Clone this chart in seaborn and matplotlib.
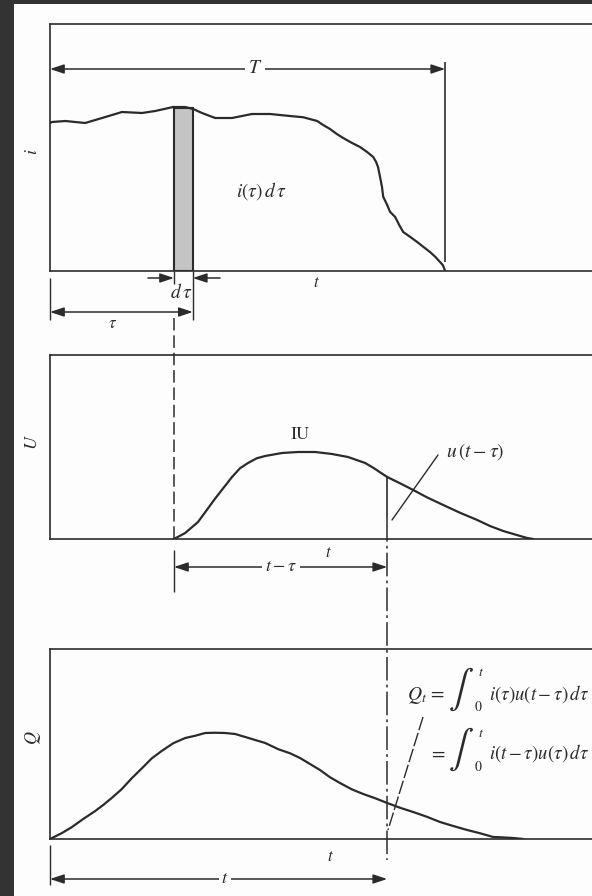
import matplotlib
matplotlib.use("Agg")
import matplotlib.pyplot as plt
from matplotlib.patches import Rectangle
import pandas as pd
import seaborn as sns

# ---------------- data ----------------
# rainfall intensity i(tau)
rain_time = [0.0, 0.05, 0.38, 0.88, 1.3, 1.8, 2.3, 2.63, 3.08, 3.38, 3.58, 3.8,
             4.13, 4.55, 5.05, 5.5, 6.0, 6.33, 6.68, 6.83, 7.0, 7.17, 7.33, 7.54,
             7.75, 7.92, 8.08, 8.15, 8.2, 8.25, 8.3, 8.33, 8.43, 8.5, 8.63, 8.73,
             8.83, 9.0, 9.18, 9.33, 9.5, 9.63, 9.75, 9.82, 9.88]
rain_i = [5.92, 5.96, 6.0, 5.92, 6.12, 6.36, 6.32, 6.4, 6.56, 6.56, 6.48, 6.32,
          6.12, 6.12, 6.28, 6.28, 6.2, 6.15, 6.0, 5.84, 5.68, 5.48, 5.32, 5.13,
          4.96, 4.77, 4.56, 4.37, 4.16, 3.77, 3.36, 2.97, 2.64, 2.37, 2.16, 1.84,
          1.56, 1.37, 1.16, 0.97, 0.76, 0.57, 0.36, 0.24, 0.0]

# instantaneous unit hydrograph, starting at tau
iu_time = [3.1, 3.38, 3.7, 3.92, 4.13, 4.33, 4.55, 4.75, 4.95, 5.17, 5.38, 5.8,
           6.2, 6.63, 7.05, 7.45, 7.88, 8.08, 8.43, 8.75, 9.08, 9.42, 9.83,
           10.25, 10.68, 11.0, 11.33, 11.67, 11.93, 12.08]
iu_u = [0.0, 0.24, 0.68, 1.16, 1.62, 2.03, 2.48, 2.83, 3.04, 3.23, 3.32, 3.44,
        3.48, 3.48, 3.4, 3.28, 3.04, 2.85, 2.48, 2.23, 1.96, 1.67, 1.36,
        1.05, 0.76, 0.52, 0.32, 0.16, 0.04, 0.0]

# direct runoff hydrograph Q(t)
q_time = [0.0, 0.05, 0.29, 0.55, 0.83, 1.13, 1.33, 1.55, 1.79, 2.05, 2.21, 2.38,
          2.54, 2.8, 3.08, 3.38, 3.63, 3.88, 4.13, 4.38, 4.63, 4.88, 5.13, 5.38,
          5.71, 6.0, 6.25, 6.5, 6.75, 7.0, 7.25, 7.54, 7.83, 8.13, 8.43, 8.75,
          9.08, 9.42, 9.75, 10.08, 10.43, 10.75, 11.08, 11.25, 11.58, 11.83]
q_val = [0.0, 0.04, 0.23, 0.48, 0.8, 1.12, 1.36, 1.65, 1.99, 2.44, 2.69, 2.96,
         3.22, 3.53, 3.83, 4.04, 4.13, 4.24, 4.25, 4.24, 4.2, 4.08, 3.96, 3.84,
         3.59, 3.43, 3.24, 3.0, 2.76, 2.47, 2.24, 1.99, 1.8, 1.63, 1.44, 1.25,
         1.08, 0.89, 0.68, 0.52, 0.36, 0.23, 0.08, 0.07, 0.04, 0.0]

T = 9.88          # rainfall duration
tau = 3.1         # start of the elemental pulse
dtau = 0.47       # pulse width
t_now = 8.43      # time of interest
bar_height = 6.5  # i(tau)

rain = pd.DataFrame({"time": rain_time, "i": rain_i})
iu = pd.DataFrame({"time": iu_time, "u": iu_u})
runoff = pd.DataFrame({"time": q_time, "Q": q_val})

# ---------------- style ----------------
sns.set_style("white")
plt.rcParams["font.family"] = ["STIXGeneral", "DejaVu Serif"]
plt.rcParams["mathtext.fontset"] = "stix"
plt.rcParams["lines.scale_dashes"] = False

INK = "#2b2b2b"
W, H = 592, 896
fig = plt.figure(figsize=(W / 100, H / 100), dpi=100, facecolor="#333333")
fig.patches.append(Rectangle((14 / W, 0), 1, 1 - 4 / H, transform=fig.transFigure,
                             facecolor="#fdfdfd", edgecolor="none", zorder=-10))

PX_PER_UNIT_X = 40.0
PX_PER_UNIT_Y = 25.0
LEFT = 50


def panel(top_px, bottom_px):
    ax = fig.add_axes([LEFT / W, (H - bottom_px) / H, 560 / W, (bottom_px - top_px) / H])
    ax.set_xlim(0, 560 / PX_PER_UNIT_X)
    ax.set_ylim(0, (bottom_px - top_px) / PX_PER_UNIT_Y)
    ax.patch.set_alpha(0)
    for s in ax.spines.values():
        s.set_color(INK)
        s.set_linewidth(1.2)
    return ax


ax1 = panel(24, 271)
ax2 = panel(355, 539)
ax3 = panel(649, 839)

curve_kw = dict(color=INK, linewidth=1.6, zorder=3, solid_joinstyle="round",
                solid_capstyle="round")

# rainfall panel
ax1.bar(tau, bar_height, width=dtau, align="edge", color="#c4c4c4",
        edgecolor=INK, linewidth=1.5, zorder=2)
sns.lineplot(data=rain, x="time", y="i", ax=ax1, **curve_kw)

# unit hydrograph panel
sns.lineplot(data=iu, x="time", y="u", ax=ax2, **curve_kw)

# runoff panel
sns.lineplot(data=runoff, x="time", y="Q", ax=ax3, **curve_kw)

for ax in (ax1, ax2, ax3):
    ax.set_xlabel("")
    ax.set_ylabel("")
    ax.set_xticks([])
    ax.set_yticks([])

# overlay: x in time units, y in pixels from top
ov = fig.add_axes([0, 0, 1, 1], zorder=5)
ov.set_xlim(-LEFT / PX_PER_UNIT_X, (W - LEFT) / PX_PER_UNIT_X)
ov.set_ylim(H, 0)
ov.axis("off")
ov.patch.set_alpha(0)


def X(px):
    return (px - LEFT) / PX_PER_UNIT_X


def vline(x, y0, y1, **kw):
    kw.setdefault("color", INK)
    kw.setdefault("linewidth", 1.2)
    ov.plot([x, x], [y0, y1], clip_on=False, solid_capstyle="butt", **kw)


def arrow(x0, x1, y, style="<|-|>"):
    ov.annotate("", xy=(x1, y), xytext=(x0, y),
                arrowprops=dict(arrowstyle=style + ",head_length=0.6,head_width=0.2",
                                mutation_scale=14, color=INK, lw=1.1,
                                shrinkA=0, shrinkB=0))


def label(x, y, s, size=12, ha="center", va="center", bg=False, **kw):
    bbox = dict(boxstyle="square,pad=0.15", fc="#fdfdfd", ec="none") if bg else None
    ov.text(x, y, s, fontsize=size, ha=ha, va=va, color=INK, bbox=bbox, **kw)


# --- rainfall annotations
vline(T, 62, 262)
arrow(0, T, 69)
label(X(255), 68, r"$T$", size=14, bg=True)
label(X(262), 191, r"$i(\tau)\,d\,\tau$", size=14)
vline(tau, 271, 284, linewidth=1.0)
vline(tau + dtau, 271, 320, linewidth=1.0)
vline(0, 278, 320, linewidth=1.0)
arrow(tau - 0.65, tau, 278, style="-|>")
arrow(tau + dtau + 0.68, tau + dtau, 278, style="-|>")
label(X(181), 293, r"$d\,\tau$", size=14)
arrow(0, tau + dtau, 312)
label(X(113), 324, r"$\tau$", size=12)
label(X(316), 283, r"$t$", size=12)

# pulse start carried down to the unit hydrograph
ov.plot([tau, tau], [318, 539], color=INK, linewidth=1.1, clip_on=False,
        linestyle=(0, (9, 3.5)))

# --- unit hydrograph annotations
label(X(300), 435, "IU", size=13)
label(X(446), 452, r"$u\,(t-\tau)$", size=14, ha="left")
ov.plot([X(438), X(392)], [455, 520], color=INK, linewidth=1.0, clip_on=False)
vline(t_now, 477, 518)
ov.plot([t_now, t_now], [518, 860], color=INK, linewidth=1.1, clip_on=False,
        linestyle=(0, (17, 3, 2, 3)))
vline(tau, 550, 592, linewidth=1.0)
arrow(tau, t_now, 567)
label(X(281), 567, r"$t-\tau$", size=13, bg=True)
label(X(328), 553, r"$t$", size=12)

# --- runoff annotations
vline(0, 845, 885, linewidth=1.0)
arrow(0, t_now, 879)
label(X(225), 879, r"$t$", size=13, bg=True)
label(X(330), 857, r"$t$", size=12)
ov.plot([X(423), X(388)], [717, 830], color=INK, linewidth=1.0, clip_on=False,
        linestyle=(0, (10, 2)))

# convolution integral
label(X(407), 700, r"$Q_t\,=$", size=14, ha="left", va="baseline")
label(X(461), 689, r"$\int$", size=27)
label(X(481), 672, r"$t$", size=10)
label(X(478), 707, r"$0$", size=10)
label(X(489), 700, r"$i(\tau)u(t-\tau)\,d\tau$", size=13.5, ha="left", va="baseline")

label(X(429), 759, r"$=$", size=14, ha="left", va="baseline")
label(X(461), 749, r"$\int$", size=27)
label(X(481), 733, r"$t$", size=10)
label(X(478), 767, r"$0$", size=10)
label(X(489), 759, r"$i(t-\tau)u(\tau)\,d\tau$", size=13.5, ha="left", va="baseline")

# axis names
label(X(33), 152, r"$i$", size=13, rotation=90)
label(X(33), 442, r"$U$", size=13, rotation=90)
label(X(33), 738, r"$Q$", size=13, rotation=90)

fig.savefig("out.png", dpi=100, facecolor=fig.get_facecolor())
